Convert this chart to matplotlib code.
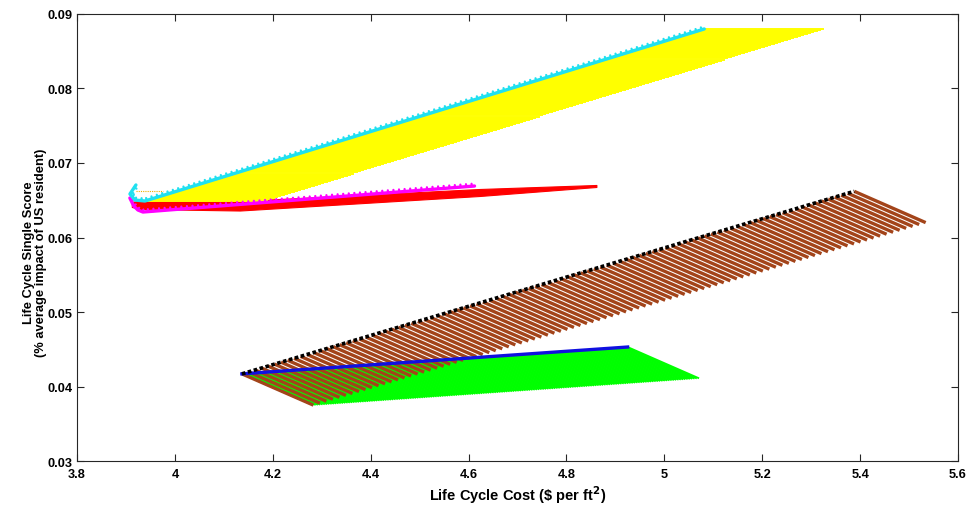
"""
Life cycle cost vs. single score trade-off sweep (recreated figure).
"""

import numpy as np
import matplotlib
matplotlib.use("Agg")
import matplotlib.pyplot as plt
import matplotlib.patheffects as pe

plt.rcParams["font.family"] = ["Liberation Sans Narrow", "Liberation Sans", "DejaVu Sans"]
plt.rcParams["font.weight"] = "bold"

# --- lower design family (brown / black / green / blue) ---
black_start = (4.137, 0.0417)
black_end = (5.388, 0.0662)
blue_start = (4.137, 0.0417)
blue_end = (4.925, 0.0453)
sweep_offset = (0.146, -0.0042)      # direction of each swept line
n_brown = 95
n_green = 170

# --- upper design family (yellow / cyan / red / magenta) ---
cyan_x = [3.9204, 3.9082, 3.9184, 3.9388, 5.0816]
cyan_y = [0.06705, 0.06584, 0.06503, 0.06490, 0.08799]
yellow_len = 0.243
n_yellow = 170

red_x = [3.912, 3.9286, 4.1327, 4.6224, 4.8612]
red_top = [0.0648, 0.0649, 0.0649, 0.06651, 0.06705]
red_bot = [0.0641, 0.06383, 0.06362, 0.06557, 0.06678]

magenta_x = [3.908, 3.916, 3.9245, 3.9347, 4.6122]
magenta_y = [0.06530, 0.06423, 0.06369, 0.06342, 0.06691]

orange_x = [3.920, 3.975]
orange_y = [0.0663, 0.0663]

x_ticks = [3.8, 4.0, 4.2, 4.4, 4.6, 4.8, 5.0, 5.2, 5.4, 5.6]
x_labels = ["3.8", "4", "4.2", "4.4", "4.6", "4.8", "5", "5.2", "5.4", "5.6"]
y_ticks = [0.03, 0.04, 0.05, 0.06, 0.07, 0.08, 0.09]
y_labels = ["0.03", "0.04", "0.05", "0.06", "0.07", "0.08", "0.09"]


def swept_lines(ax, p0, p1, n, offset, **kw):
    """Draw n parallel lines starting along p0->p1, each going by offset."""
    t = np.linspace(0, 1, n)
    xs = p0[0] + t * (p1[0] - p0[0])
    ys = p0[1] + t * (p1[1] - p0[1])
    for x, y in zip(xs, ys):
        ax.plot([x, x + offset[0]], [y, y + offset[1]], solid_capstyle="butt", **kw)


def serrated(color):
    # small ticks along the stroke to mimic the marker-built edge
    return [pe.Normal(),
            pe.TickedStroke(spacing=4, angle=90, length=0.45, linewidth=1.6, foreground=color)]


fig = plt.figure(figsize=(9.66, 5.10), dpi=100)
ax = fig.add_axes([0.0797, 0.0941, 0.9120, 0.8765])

# lower family
swept_lines(ax, blue_start, blue_end, n_green, sweep_offset, color="#00ff00", lw=1.3)
swept_lines(ax, black_start, black_end, n_brown, sweep_offset, color="#a3441a", lw=2.4)
ax.plot([blue_start[0], blue_end[0]], [blue_start[1], blue_end[1]],
        color="#1010e0", lw=2.4)
ax.plot([black_start[0], black_end[0]], [black_start[1], black_end[1]],
        color="black", lw=2.6, linestyle=(0, (1.0, 0.7)))

# upper family: horizontal yellow sweeps from the cyan front
t = np.linspace(0, 1, n_yellow)
yx = cyan_x[3] + t * (cyan_x[4] - cyan_x[3])
yy = cyan_y[3] + t * (cyan_y[4] - cyan_y[3])
for x, y in zip(yx, yy):
    ax.plot([x, x + yellow_len], [y, y], color="#ffff00", lw=1.4)

ax.plot(orange_x, orange_y, color="#f0b000", lw=0.8, linestyle=(0, (1, 1)))
ax.fill_between(red_x, red_bot, red_top, color="#ff0000", lw=0.8, edgecolor="#ff0000")

ax.plot(magenta_x, magenta_y, color="#ff00ff", lw=2.4, solid_capstyle="round",
        path_effects=serrated("#ff00ff"))
ax.plot(cyan_x, cyan_y, color="#20e0f0", lw=2.4, solid_capstyle="round",
        path_effects=serrated("#20e0f0"))

# axes styling (MATLAB-like box with inward ticks)
ax.set_xlim(3.8, 5.6)
ax.set_ylim(0.03, 0.09)
ax.set_xticks(x_ticks)
ax.set_xticklabels(x_labels)
ax.set_yticks(y_ticks)
ax.set_yticklabels(y_labels)
ax.tick_params(direction="in", top=True, right=True, length=5, width=0.8,
               labelsize=9.2, colors="#262626", labelcolor="black", pad=3)
ax.tick_params(axis="x", pad=5)
for lab in ax.get_xticklabels() + ax.get_yticklabels():
    lab.set_fontweight("bold")
    lab.set_family(["Liberation Sans", "DejaVu Sans"])
for s in ax.spines.values():
    s.set_color("#262626")
    s.set_linewidth(0.8)

ax.set_xlabel("Life Cycle Cost (\\$ per ft$^{\\mathbf{2}}$)", fontsize=10.5, fontweight="bold")
ax.set_ylabel("Life Cycle Single Score\n(% average impact of US resident)",
              fontsize=9.3, fontweight="bold", linespacing=1.0)
ax.yaxis.set_label_coords(-0.034, 0.468)
ax.xaxis.set_label_coords(0.5, -0.050)

fig.savefig("out.png", dpi=100, facecolor="white")
